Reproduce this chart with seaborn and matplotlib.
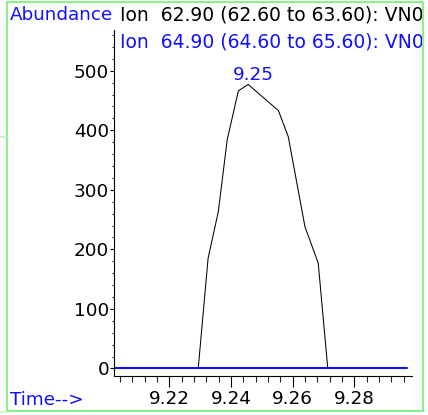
import matplotlib
matplotlib.use('Agg')
import matplotlib.pyplot as plt
from matplotlib.patches import Rectangle
from matplotlib.lines import Line2D
from matplotlib.ticker import MultipleLocator, FormatStrFormatter
from matplotlib.transforms import Bbox, TransformedBbox
import seaborn as sns


# ion 62.90 trace (the peak)
time_ion1 = [9.2021, 9.2262, 9.2294, 9.2326, 9.2359, 9.2388, 9.2424, 9.2456,
             9.2489, 9.2554, 9.2586, 9.2640, 9.2683, 9.2714, 9.2750, 9.2970]
abund_ion1 = [0, 0, 0, 185, 263, 384, 466, 477,
              462, 433, 389, 238, 177, 0, 0, 0]

# ion 64.90 trace (flat)
time_ion2 = [9.2021, 9.2300, 9.2600, 9.2970]
abund_ion2 = [0, 0, 0, 0]

ion1_label = 'Ion  62.90 (62.60 to 63.60): VN0'
ion2_label = 'Ion  64.90 (64.60 to 65.60): VN0'
peak_label = '9.25'
peak_time = 9.2474
peak_text_y = 484

W, H = 428, 415
BLUE = '#1010ff'
GREEN = '#8cf08c'
FS = 13.2

sns.set_style('ticks')
plt.rcParams['font.family'] = ['DejaVu Sans']


def fx(x):
    return x / W


def fy(y):
    return 1 - y / H


fig = plt.figure(figsize=(W / 100, H / 100), dpi=100)
ax = fig.add_axes([fx(114), fy(376), (412 - 114) / W, (376 - 30) / H])

sns.lineplot(x=time_ion1, y=abund_ion1, color='black', linewidth=0.75, ax=ax)
sns.lineplot(x=time_ion2, y=abund_ion2, color=BLUE, linewidth=1.5, ax=ax)

ax.set_xlim(9.2021, 9.2987)
ax.set_ylim(-12.6, 568.3)
ax.set_facecolor('white')

for s in ['top', 'right']:
    ax.spines[s].set_visible(False)
for s in ['left', 'bottom']:
    ax.spines[s].set_linewidth(0.8)
    ax.spines[s].set_color('black')

ax.xaxis.set_major_locator(MultipleLocator(0.02))
ax.xaxis.set_minor_locator(MultipleLocator(0.004))
ax.xaxis.set_major_formatter(FormatStrFormatter('%.2f'))
ax.yaxis.set_major_locator(MultipleLocator(100))
ax.yaxis.set_minor_locator(MultipleLocator(20))

ax.tick_params(axis='x', which='major', direction='out', length=8, width=0.8,
               pad=2, labelsize=FS, colors='black')
ax.tick_params(axis='x', which='minor', direction='out', length=4.3, width=0.8)
ax.tick_params(axis='y', which='major', direction='out', length=3, width=0.8,
               pad=0.5, labelsize=FS, colors='black')
ax.tick_params(axis='y', which='minor', direction='out', length=1.5, width=0.8)
ax.set_xlabel('')
ax.set_ylabel('')

ax.text(peak_time, peak_text_y, peak_label, color=BLUE, fontsize=FS,
        ha='center', va='baseline')

# frame and header texts
frame_clip = TransformedBbox(Bbox([[fx(8), fy(410)], [fx(421.5), fy(3)]]),
                             fig.transFigure)

fig.text(fx(9.5), fy(20.5), 'Abundance', color=BLUE, fontsize=FS,
         ha='left', va='baseline')
t1 = fig.text(fx(120), fy(20.5), ion1_label, color='black', fontsize=FS + 0.3,
              ha='left', va='baseline')
t2 = fig.text(fx(120), fy(47), ion2_label, color=BLUE, fontsize=FS + 0.3,
              ha='left', va='baseline')
for t in (t1, t2):
    t.set_clip_box(frame_clip)
    t.set_clip_on(True)

fig.text(fx(9.5), fy(405), 'Time-->', color=BLUE, fontsize=FS,
         ha='left', va='baseline')

fig.patches.append(Rectangle((fx(7), fy(411)), (423 - 7) / W, (411 - 2) / H,
                             fill=False, edgecolor=GREEN, linewidth=1.5,
                             transform=fig.transFigure, figure=fig))
fig.lines.append(Line2D([fx(0), fx(7)], [fy(137), fy(137)], color='#c4f2c4',
                        linewidth=1.2, transform=fig.transFigure, figure=fig))
fig.lines.append(Line2D([fx(0), fx(7)], [fy(411.5), fy(411.5)], color='#c4f2c4',
                        linewidth=1.2, transform=fig.transFigure, figure=fig))

fig.savefig('out.png', dpi=100, facecolor='white')
